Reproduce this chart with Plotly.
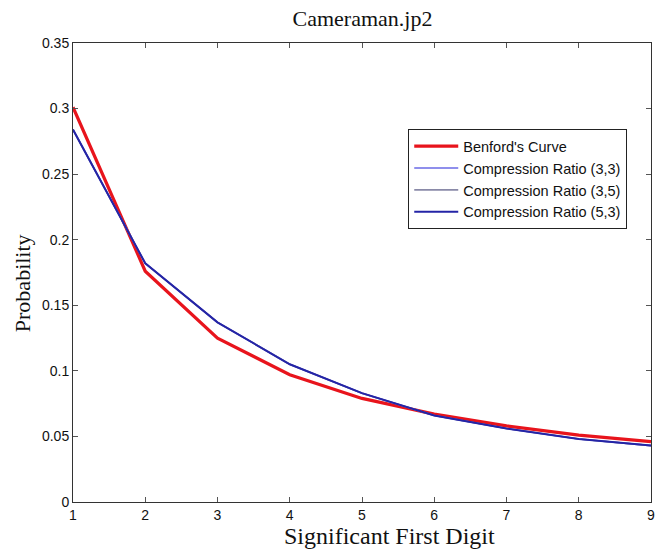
import plotly.graph_objects as go

# First significant digit
digits = [1, 2, 3, 4, 5, 6, 7, 8, 9]

# Benford's law probabilities log10(1 + 1/d)
benford = [0.301, 0.176, 0.125, 0.097, 0.079, 0.067, 0.058, 0.051, 0.046]

# Observed first-digit distributions for each compression ratio
ratio_3_3 = [0.284, 0.182, 0.137, 0.105, 0.083, 0.066, 0.056, 0.048, 0.043]
ratio_3_5 = [0.284, 0.182, 0.137, 0.105, 0.083, 0.066, 0.056, 0.048, 0.043]
ratio_5_3 = [0.284, 0.182, 0.137, 0.105, 0.083, 0.066, 0.056, 0.048, 0.043]

y_tick_vals = [0, 0.05, 0.1, 0.15, 0.2, 0.25, 0.3, 0.35]
y_tick_text = ["0", "0.05", "0.1", "0.15", "0.2", "0.25", "0.3", "0.35"]

sans = "Liberation Sans, Arial, sans-serif"
serif = "Liberation Serif, Times New Roman, serif"

fig = go.Figure()
fig.add_trace(go.Scatter(x=digits, y=benford, mode="lines", name="Benford's Curve",
                         line=dict(color="#e8141c", width=3.2)))
fig.add_trace(go.Scatter(x=digits, y=ratio_3_3, mode="lines", name="Compression Ratio (3,3)",
                         line=dict(color="#6a6ae6", width=1.6)))
fig.add_trace(go.Scatter(x=digits, y=ratio_3_5, mode="lines", name="Compression Ratio (3,5)",
                         line=dict(color="#8a8aa8", width=1.6)))
fig.add_trace(go.Scatter(x=digits, y=ratio_5_3, mode="lines", name="Compression Ratio (5,3)",
                         line=dict(color="#2424a6", width=2)))

axis_common = dict(
    showline=True, linecolor="#333333", linewidth=1, mirror="ticks",
    ticks="inside", ticklen=5, tickcolor="#555555",
    showgrid=False, zeroline=False, ticklabeloverflow="allow",
    tickfont=dict(family=sans, size=14, color="#111111"),
)

fig.update_layout(
    width=659, height=549,
    margin=dict(l=73, r=4, t=43, b=47),
    paper_bgcolor="white", plot_bgcolor="white",
    title=dict(text="Cameraman.jp2", x=0.55, xanchor="center", y=0.966, yanchor="middle",
               font=dict(family=serif, size=22, color="#111111")),
    xaxis=dict(range=[1, 9], tickvals=digits, ticktext=[str(d) for d in digits],
               **axis_common),
    yaxis=dict(range=[0, 0.35], tickvals=y_tick_vals, ticktext=y_tick_text,
               **axis_common),
    legend=dict(x=0.58, y=0.812, xanchor="left", yanchor="top",
                bordercolor="#222222", borderwidth=1, bgcolor="white",
                font=dict(family=sans, size=14.5, color="#111111"),
                tracegroupgap=0, itemwidth=44),
    showlegend=True,
    annotations=[
        dict(text="Significant First Digit", xref="paper", yref="paper",
             x=0.548, y=-0.1035, xanchor="center", yanchor="bottom", showarrow=False,
             borderpad=0, font=dict(family=serif, size=24, color="#111111")),
        dict(text="Probability", xref="paper", yref="paper", textangle=-90,
             x=-0.088, y=0.477, xanchor="center", yanchor="middle", showarrow=False,
             font=dict(family=serif, size=22, color="#111111")),
    ],
)

fig.write_html("out.html")
